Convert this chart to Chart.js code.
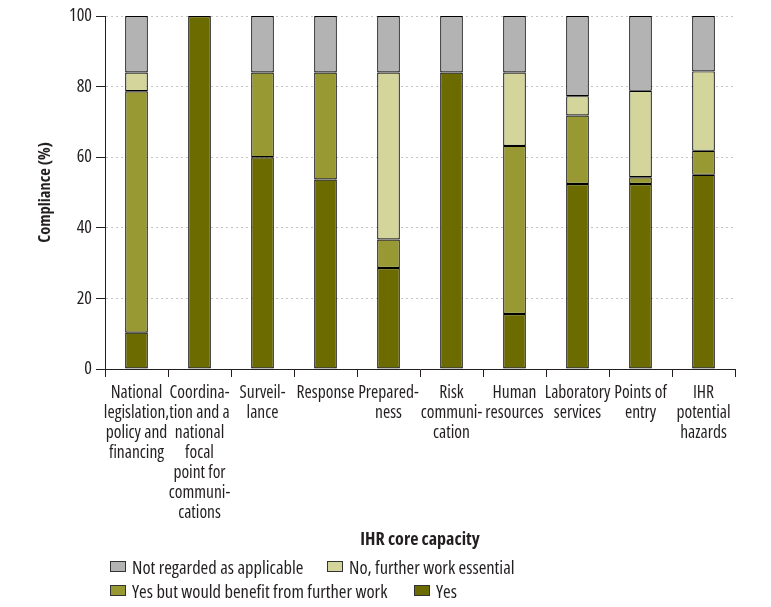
<!DOCTYPE html>
<html><head><meta charset="utf-8">
<script src="https://cdn.jsdelivr.net/npm/chart.js@4/dist/chart.umd.min.js"></script>
<style>
html,body{margin:0;padding:0;background:#fff;}
#wrap{position:relative;width:771px;height:607px;}
#c{position:absolute;left:0;top:0;}
.lg{position:absolute;height:20px;font-family:'Open Sans',sans-serif;font-size:18.5px;font-stretch:condensed;color:#231f20;white-space:nowrap;line-height:20px;}
.lg span.box{position:absolute;top:4px;width:14px;height:9px;border:1px solid #333;}
.lg span.t{position:absolute;top:0;}
</style></head>
<body>
<div id="wrap"><canvas id="c" width="771" height="555"></canvas><div id="legend"></div></div>
<script>
const categories = [
  ["National","legislation,","policy and","financing"],
  ["Coordina-","tion and a","national","focal","point for","communi-","cations"],
  ["Surveil-","lance"],
  ["Response"],
  ["Prepared-","ness"],
  ["Risk","communi-","cation"],
  ["Human","resources"],
  ["Laboratory","services"],
  ["Points of","entry"],
  ["IHR","potential","hazards"]
];
const yesValues        = [10.3, 100, 60.0, 53.7, 28.6, 84.0, 15.6, 52.4, 52.4, 55.0];
const yesButValues     = [68.4, null, 24.0, 30.3, 8.1, null, 47.6, 19.4, 1.9, 6.8];
const noFurtherValues  = [5.3, null, null, null, 47.3, null, 20.8, 5.5, 24.5, 22.5];
const notApplicValues  = [16.0, null, 16.0, 16.0, 16.0, 16.0, 16.0, 22.7, 21.2, 15.7];
const yTicks = [0, 20, 40, 60, 80, 100];
const seriesNames = ["Yes", "Yes but would benefit from further work", "No, further work essential", "Not regarded as applicable"];
const seriesColors = ["#6b6b00", "#999933", "#d4d59b", "#b3b3b3"];

const FONT = "'Open Sans', sans-serif";
const TXT = '#231f20';
const seriesData = [yesValues, yesButValues, noFurtherValues, notApplicValues];

// make all canvas text condensed (Open Sans width axis)
const canvas = document.getElementById('c');
const ctx2d = canvas.getContext('2d');
const fontDesc = Object.getOwnPropertyDescriptor(CanvasRenderingContext2D.prototype, 'font');
Object.defineProperty(ctx2d, 'font', {
  configurable: true,
  get() { return fontDesc.get.call(this); },
  set(v) { fontDesc.set.call(this, v); this.fontStretch = 'condensed'; }
});

const datasets = seriesData.map((d, i) => ({
  label: seriesNames[i],
  data: d,
  backgroundColor: seriesColors[i],
  borderColor: '#000',
  borderWidth: 1.2,
  borderSkipped: false,
  categoryPercentage: 1,
  barPercentage: 0.36
}));

new Chart(ctx2d, {
  type: 'bar',
  data: { labels: categories, datasets },
  options: {
    responsive: false,
    animation: false,
    layout: { padding: { left: 0, right: 36, top: 16, bottom: 0 } },
    plugins: { legend: { display: false }, tooltip: { enabled: false } },
    scales: {
      x: {
        stacked: true,
        offset: true,
        grid: { display: true, offset: true, drawOnChartArea: false, drawTicks: true, tickLength: 8, tickColor: '#231f20', tickWidth: 1 },
        border: { display: true, color: '#231f20', width: 1 },
        ticks: { autoSkip: false, maxRotation: 0, minRotation: 0, padding: 6, color: TXT, font: { family: FONT, size: 17.5, lineHeight: 20 / 17.5 } },
        title: { display: true, text: 'IHR core capacity', color: TXT, font: { family: FONT, size: 18, weight: 'bold' }, padding: { top: 4, bottom: 4 } },
        afterFit: s => { s.height = 186; }
      },
      y: {
        stacked: true,
        min: 0, max: 100,
        afterBuildTicks: s => { s.ticks = yTicks.map(v => ({ value: v })); },
        grid: { display: true, color: '#c4c4c4', lineWidth: 1, drawTicks: true, tickLength: 9, tickColor: '#231f20', tickWidth: 1, tickBorderDash: [] },
        border: { display: true, color: '#231f20', width: 1, dash: [2, 3] },
        ticks: { padding: 4, color: TXT, font: { family: FONT, size: 18 } },
        title: { display: true, text: 'Compliance (%)', color: TXT, font: { family: FONT, size: 16.5, weight: 'bold' }, padding: { top: 35, bottom: 0 } },
        afterFit: s => { s.width = 105; }
      }
    }
  }
});

// HTML legend built from the series arrays
const legendOrder = [3, 2, 1, 0];
const legendPos = [[110, 557], [327, 557], [110, 581], [414, 581]];
const lgEl = document.getElementById('legend');
legendOrder.forEach((si, k) => {
  const d = document.createElement('div');
  d.className = 'lg';
  d.style.left = legendPos[k][0] + 'px';
  d.style.top = legendPos[k][1] + 'px';
  d.innerHTML = '<span class="box" style="background:' + seriesColors[si] + '"></span><span class="t" style="left:22px">' + seriesNames[si] + '</span>';
  lgEl.appendChild(d);
});
</script>
</body></html>
